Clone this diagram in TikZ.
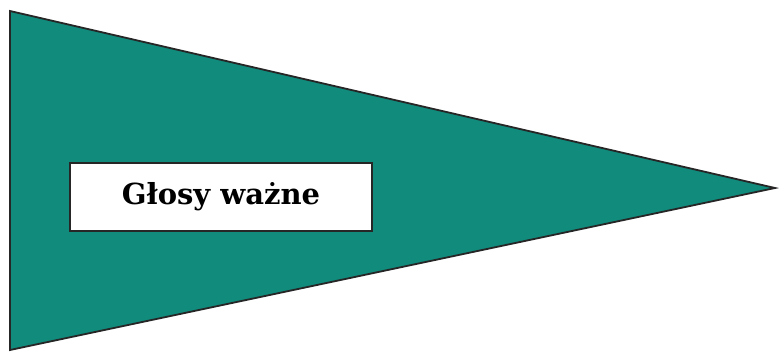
\documentclass[tikz,border=0pt]{standalone}
\usepackage{fontspec}
\setmainfont{DejaVu Serif}
\usetikzlibrary{calc}
\definecolor{pennant}{RGB}{16,139,124}

\begin{document}
\begin{tikzpicture}[
  x=1pt, y=-1pt,
  flag/.style={draw=black!85, line width=1.8pt, fill=pennant, line join=miter},
  label/.style={draw=black!85, line width=1.8pt, fill=white, inner sep=0pt,
    minimum width=302pt, minimum height=68pt, font=\bfseries\fontsize{29}{32}\selectfont}
]
\useasboundingbox (0,0) rectangle (779,351);
\coordinate (topleft) at (10,11);
\coordinate (botleft) at (10,350);
\coordinate (tip) at (775,188);
\draw[flag] (topleft) -- (tip) -- (botleft) -- cycle;
\node[label] (votes) at (221,197) {Głosy ważne};
\end{tikzpicture}
\end{document}
